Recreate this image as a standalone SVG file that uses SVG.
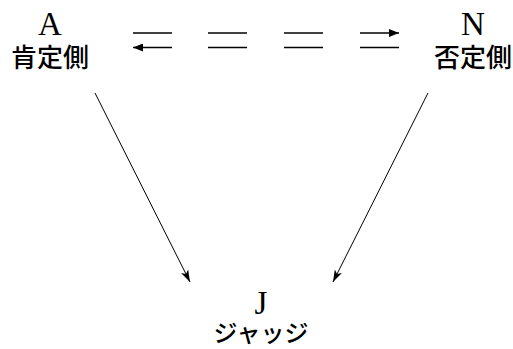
<svg xmlns="http://www.w3.org/2000/svg" width="513" height="349" viewBox="0 0 513 349">
<style>
.lat{font-family:"Liberation Serif","DejaVu Serif",serif;font-size:33px;fill:#000;text-anchor:middle}
.jp{font-family:"Noto Sans CJK JP","Noto Sans CJK SC",sans-serif;font-size:26px;font-weight:500;fill:#000;text-anchor:middle}
.bar{stroke:#000;stroke-width:1.6;fill:none}
.diag{stroke:#000;stroke-width:1;fill:none}
</style>
<defs>
<marker id="ah" viewBox="0 0 10 8" refX="10" refY="4" markerWidth="10" markerHeight="8" markerUnits="userSpaceOnUse" orient="auto">
<path d="M0,0 L10,4 L0,8 Z" fill="#000"/>
</marker>
<marker id="ah2" viewBox="0 0 12 8" refX="12" refY="4" markerWidth="12" markerHeight="8" markerUnits="userSpaceOnUse" orient="auto">
<path d="M0,0 L12,4 L0,8 L3,4 Z" fill="#000"/>
</marker>
</defs>
<g id="nodeA">
<text class="lat" x="50" y="35">A</text>
<text class="jp" x="50" y="67">肯定側</text>
</g>
<g id="nodeN">
<text class="lat" x="473" y="35">N</text>
<text class="jp" x="473" y="67">否定側</text>
</g>
<g id="nodeJ">
<text class="lat" x="261" y="314">J</text>
<text class="jp" x="261" y="342" style="font-size:24px">ジャッジ</text>
</g>
<g id="connectors">
<line class="bar" x1="133" y1="33" x2="172" y2="33"/>
<line class="bar" x1="172" y1="47.5" x2="133" y2="47.5" marker-end="url(#ah)"/>
<line class="bar" x1="208" y1="33" x2="247" y2="33"/>
<line class="bar" x1="208" y1="47.5" x2="247" y2="47.5"/>
<line class="bar" x1="284" y1="33" x2="323" y2="33"/>
<line class="bar" x1="284" y1="47.5" x2="323" y2="47.5"/>
<line class="bar" x1="360" y1="33" x2="399" y2="33" marker-end="url(#ah)"/>
<line class="bar" x1="360" y1="47.5" x2="399" y2="47.5"/>
<line class="diag" x1="95" y1="93" x2="190" y2="282" marker-end="url(#ah2)"/>
<line class="diag" x1="428" y1="93" x2="333" y2="282" marker-end="url(#ah2)"/>
</g>
</svg>
